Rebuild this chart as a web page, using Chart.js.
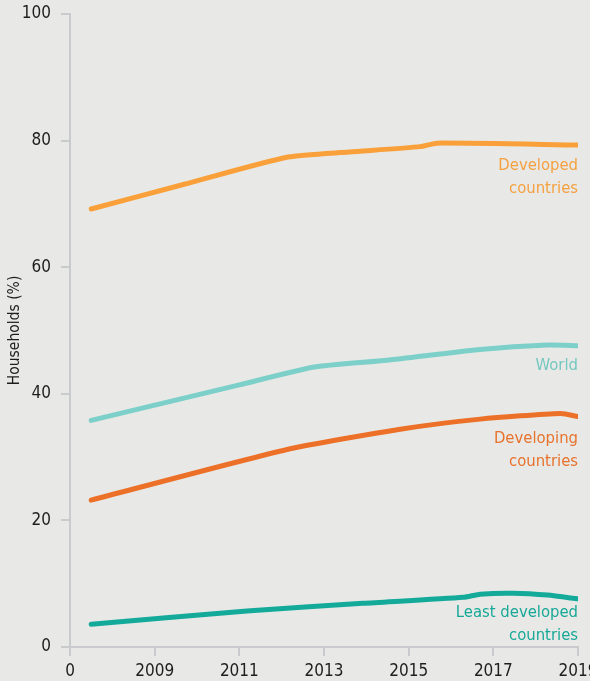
<!DOCTYPE html>
<html>
<head>
<meta charset="utf-8">
<script src="https://cdn.jsdelivr.net/npm/chart.js@4.4.1/dist/chart.umd.min.js"></script>
<style>
    html, body { margin: 0; padding: 0; background: #e8e9e6; overflow: hidden; }
    #wrap { width: 590px; height: 681px; }
</style>
</head>
<body>
<div id="wrap"><canvas id="myChart" width="590" height="681"></canvas></div>
<script>
// values (year, households %)
var developedYears = [2007.5, 2009.7, 2012.15, 2013.6, 2015.27, 2015.67, 2019];
var developed = [69.2, 73.1, 77.4, 78.2, 79.05, 79.6, 79.3];

var worldYears = [2007.5, 2011.0, 2012.74, 2014.49, 2016.69, 2018.28, 2019];
var world = [35.8, 41.4, 44.2, 45.3, 47.0, 47.7, 47.6];

var developingYears = [2007.5, 2012.13, 2014.8, 2016.69, 2018.59, 2019];
var developing = [23.2, 31.2, 34.4, 36.0, 36.9, 36.4];

var leastYears = [2007.5, 2011.18, 2013.92, 2016.29, 2016.69, 2017.47, 2018.28, 2019];
var least = [3.6, 5.7, 6.9, 7.85, 8.35, 8.5, 8.2, 7.6];

var seriesNames = [['Developed', 'countries'], ['World'], ['Developing', 'countries'], ['Least developed', 'countries']];
var seriesColors = ['#f9a03a', '#7dd0c9', '#ec7028', '#14aa9a'];
var labelColors = ['#f5a040', '#74c8c1', '#e8722d', '#17a897'];
var labelOffsets = [21, 20, 22, 14];

var yTicks = [0, 20, 40, 60, 80, 100];
var xTicks = [2007, 2009, 2011, 2013, 2015, 2017, 2019];

var FONT = '"DejaVu Sans Condensed", "DejaVu Sans", sans-serif';

function toPoints(xs, ys) {
    return xs.map(function(x, i) { return { x: x, y: ys[i] }; });
}

var allYears = [developedYears, worldYears, developingYears, leastYears];
var allValues = [developed, world, developing, least];

var datasets = allValues.map(function(vals, i) {
    return {
        label: seriesNames[i].join(' '),
        data: toPoints(allYears[i], vals),
        borderColor: seriesColors[i],
        borderWidth: 5,
        borderCapStyle: 'round',
        borderJoinStyle: 'round',
        pointRadius: 0,
        tension: 0.2,
        fill: false
    };
});

// draws the series names under the end of each line
var endLabels = {
    id: 'endLabels',
    afterDatasetsDraw: function(chart) {
        var ctx = chart.ctx;
        ctx.save();
        ctx.font = '16.5px ' + FONT;
        ctx.textAlign = 'right';
        ctx.textBaseline = 'middle';
        chart.data.datasets.forEach(function(ds, i) {
            var meta = chart.getDatasetMeta(i);
            var last = meta.data[meta.data.length - 1];
            ctx.fillStyle = labelColors[i];
            seriesNames[i].forEach(function(line, j) {
                ctx.fillText(line, last.x, last.y + labelOffsets[i] + j * 23);
            });
        });
        ctx.restore();
    }
};

var grey = '#c9cacd';

var myChart = new Chart(document.getElementById('myChart'), {
    type: 'line',
    data: { datasets: datasets },
    options: {
        responsive: false,
        animation: false,
        layout: { padding: { top: 14, right: 12, left: 0, bottom: 0 }, autoPadding: false },
        plugins: { legend: { display: false }, tooltip: { enabled: false } },
        scales: {
            x: {
                type: 'linear',
                min: 2007,
                max: 2019,
                afterBuildTicks: function(scale) {
                    scale.ticks = xTicks.map(function(v) { return { value: v }; });
                },
                afterFit: function(scale) {
                    scale.paddingLeft = 0;
                    scale.paddingRight = 0;
                    scale.height = 34;
                },
                border: { display: true, color: grey, width: 2 },
                grid: { drawOnChartArea: false, drawTicks: true, tickLength: 9, color: grey, lineWidth: 2 },
                ticks: {
                    color: '#1e1e1e',
                    padding: 5,
                    maxRotation: 0,
                    autoSkip: false,
                    font: { family: FONT, size: 17 },
                    callback: function(v) { return v === 2007 ? '0' : String(v); }
                }
            },
            y: {
                min: 0,
                max: 100,
                afterBuildTicks: function(scale) {
                    scale.ticks = yTicks.map(function(v) { return { value: v }; });
                },
                afterFit: function(scale) {
                    scale.paddingTop = 0;
                    scale.paddingBottom = 0;
                    scale.width = 70;
                },
                border: { display: true, color: grey, width: 2 },
                grid: { drawOnChartArea: false, drawTicks: true, tickLength: 9, color: grey, lineWidth: 2 },
                title: {
                    display: true,
                    text: 'Households (%)',
                    color: '#1e1e1e',
                    padding: { top: 6, bottom: 0 },
                    font: { family: FONT, size: 15.5 }
                },
                ticks: {
                    color: '#1e1e1e',
                    padding: 10,
                    font: { family: FONT, size: 17 }
                }
            }
        }
    },
    plugins: [endLabels]
});
</script>
</body>
</html>
